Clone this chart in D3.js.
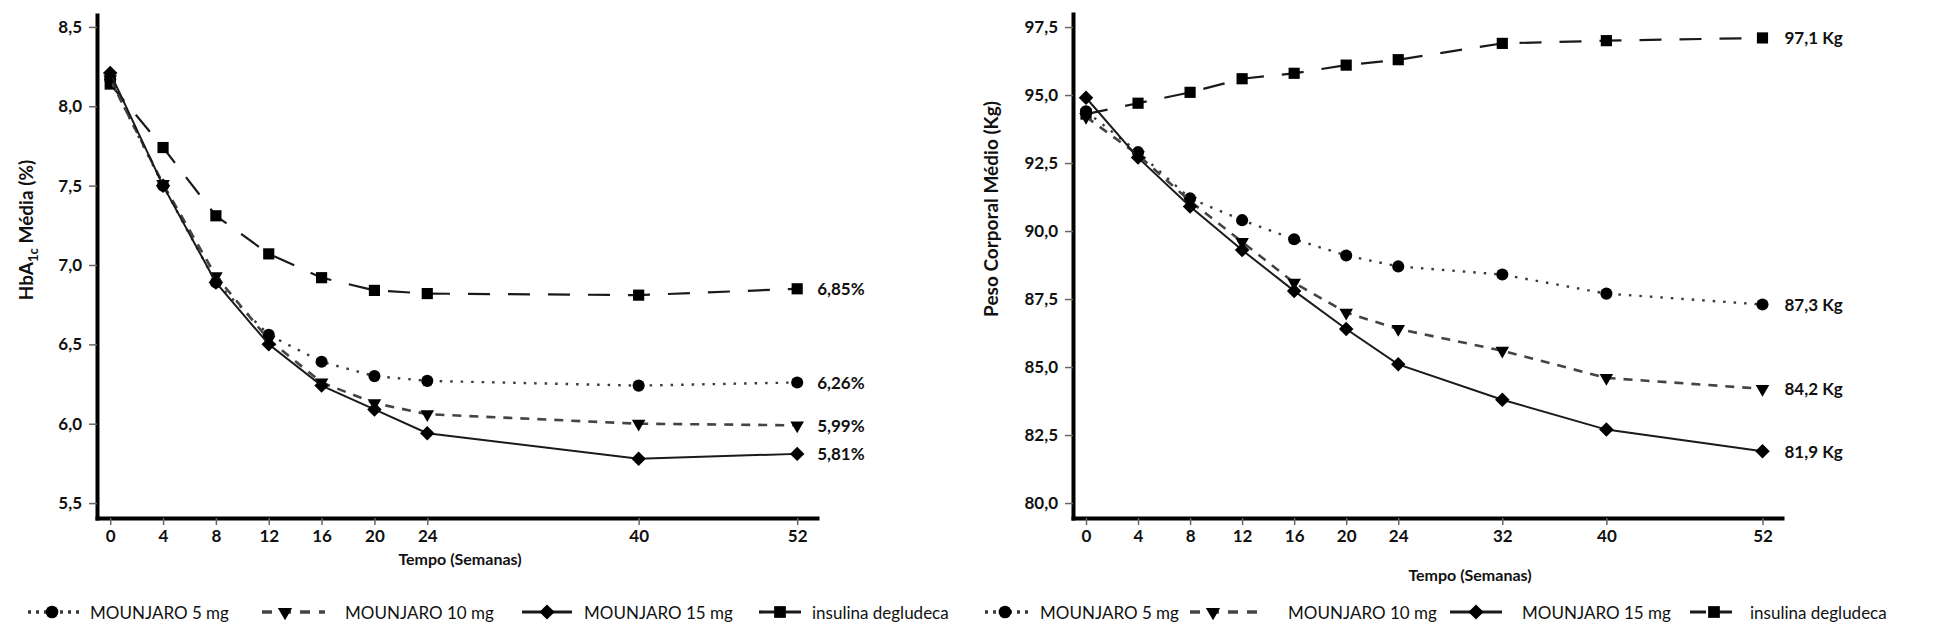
<!DOCTYPE html>
<html>
<head>
<meta charset="utf-8">
<script src="https://cdn.jsdelivr.net/npm/d3@7/dist/d3.min.js"></script>
<style>
  body { margin: 0; background: #fff; }
  svg { display: block; font-family: Lato, "Open Sans", sans-serif; }
</style>
</head>
<body>
<div id="chart"></div>
<script>
// séries (mesma ordem nos dois painéis)
const seriesNames = ["MOUNJARO 5 mg", "MOUNJARO 10 mg", "MOUNJARO 15 mg", "insulina degludeca"];

// painel esquerdo: HbA1c
const weeksA1c = [0, 4, 8, 12, 16, 20, 24, 40, 52];
const a1c5mg = [8.17, 7.50, 6.89, 6.56, 6.39, 6.30, 6.27, 6.24, 6.26];
const a1c10mg = [8.17, 7.51, 6.93, 6.53, 6.26, 6.13, 6.06, 6.00, 5.99];
const a1c15mg = [8.21, 7.50, 6.89, 6.50, 6.24, 6.09, 5.94, 5.78, 5.81];
const a1cDeg = [8.14, 7.74, 7.31, 7.07, 6.92, 6.84, 6.82, 6.81, 6.85];
const a1cTicks = [5.5, 6.0, 6.5, 7.0, 7.5, 8.0, 8.5];
const a1cEndLabels = ["6,26%", "5,99%", "5,81%", "6,85%"];

// painel direito: peso corporal
const weeksWeight = [0, 4, 8, 12, 16, 20, 24, 32, 40, 52];
const weight5mg = [94.4, 92.9, 91.2, 90.4, 89.7, 89.1, 88.7, 88.4, 87.7, 87.3];
const weight10mg = [94.2, 92.8, 91.1, 89.6, 88.1, 87.0, 86.4, 85.6, 84.6, 84.2];
const weight15mg = [94.9, 92.7, 90.9, 89.3, 87.8, 86.4, 85.1, 83.8, 82.7, 81.9];
const weightDeg = [94.3, 94.7, 95.1, 95.6, 95.8, 96.1, 96.3, 96.9, 97.0, 97.1];
const weightTicks = [80.0, 82.5, 85.0, 87.5, 90.0, 92.5, 95.0, 97.5];
const weightEndLabels = ["87,3 Kg", "84,2 Kg", "81,9 Kg", "97,1 Kg"];

const ptBR = d3.formatLocale({ decimal: ",", thousands: ".", grouping: [3], currency: ["R$", ""] });
const fmt1 = ptBR.format(".1f");

// estilo de cada série: traço e marcador
const styles = [
  { stroke: "#3a3a3a", width: 2.4, dash: "2.5,8", symbol: d3.symbolCircle, size: 115, rotate: 0, legendDash: "3,5" },
  { stroke: "#444", width: 2.6, dash: "9,8", symbol: d3.symbolTriangle, size: 80, rotate: 180, legendDash: "10,9" },
  { stroke: "#1a1a1a", width: 2, dash: null, symbol: d3.symbolSquare, size: 105, rotate: 45, legendDash: null },
  { stroke: "#1a1a1a", width: 2.2, dash: "22,18", symbol: d3.symbolSquare, size: 125, rotate: 0, legendDash: "16,10" }
];

const svg = d3.select("#chart").append("svg")
  .attr("width", 1950)
  .attr("height", 643);

function drawPanel(cfg) {
  const x = d3.scaleLinear().domain([-1, 53.5]).range(cfg.xRange);
  const y = d3.scaleLinear().domain(cfg.yDomain).range([518, cfg.yTop]);
  const g = svg.append("g");

  // eixo y
  const yAxis = g.append("g")
    .attr("transform", `translate(${cfg.xRange[0]},0)`)
    .call(d3.axisLeft(y).tickValues(cfg.yTicks).tickFormat(fmt1).tickSize(8).tickSizeOuter(0).tickPadding(7));
  // eixo x
  const xAxis = g.append("g")
    .attr("transform", "translate(0,518)")
    .call(d3.axisBottom(x).tickValues(cfg.weeks).tickFormat(d3.format("d")).tickSize(7).tickSizeOuter(0).tickPadding(5));

  [yAxis, xAxis].forEach(ax => {
    ax.select(".domain").attr("stroke", "#000").attr("stroke-width", 4).attr("stroke-linecap", "square");
    ax.selectAll(".tick line").attr("stroke", "#666").attr("stroke-width", 1.5);
    ax.selectAll(".tick text")
      .attr("fill", "#111")
      .style("font-size", "17px")
      .style("font-weight", "700")
      .style("font-family", "Lato, sans-serif");
  });

  // títulos dos eixos
  const yTitle = g.append("text")
    .attr("transform", `translate(${cfg.yTitleX},${cfg.yTitleY}) rotate(-90)`)
    .attr("text-anchor", "middle")
    .attr("dominant-baseline", "central")
    .attr("fill", "#111")
    .style("font-size", "19px")
    .style("font-weight", "700");
  cfg.yTitle(yTitle);

  g.append("text")
    .attr("x", cfg.xTitleX)
    .attr("y", cfg.xTitleY)
    .attr("text-anchor", "middle")
    .attr("dominant-baseline", "central")
    .attr("fill", "#111")
    .style("font-size", "16px")
    .style("font-weight", "700")
    .text("Tempo (Semanas)");

  const line = d3.line().x(d => x(d.w)).y(d => y(d.v));

  // desenha a série de insulina primeiro, depois as de MOUNJARO
  [3, 0, 1, 2].forEach(i => {
    const st = styles[i];
    const pts = cfg.weeks.map((w, k) => ({ w, v: cfg.series[i][k] }));
    g.append("path")
      .datum(pts)
      .attr("fill", "none")
      .attr("stroke", st.stroke)
      .attr("stroke-width", st.width)
      .attr("stroke-dasharray", st.dash)
      .attr("d", line);

    g.selectAll(null)
      .data(pts)
      .join("path")
      .attr("d", d3.symbol().type(st.symbol).size(st.size))
      .attr("transform", d => `translate(${x(d.w)},${y(d.v)}) rotate(${st.rotate})`)
      .attr("fill", "#000");

    const last = pts[pts.length - 1];
    g.append("text")
      .attr("x", x(last.w) + cfg.labelGap)
      .attr("y", y(last.v))
      .attr("dominant-baseline", "central")
      .attr("fill", "#111")
      .style("font-size", "17px")
      .style("font-weight", "700")
      .text(cfg.endLabels[i]);
  });

  // legenda
  cfg.legend.forEach((it, i) => {
    const st = styles[i];
    const lg = svg.append("g");
    lg.append("line")
      .attr("x1", it.from).attr("x2", it.to)
      .attr("y1", 612).attr("y2", 612)
      .attr("stroke", st.stroke)
      .attr("stroke-width", st.width + 1)
      .attr("stroke-dasharray", st.legendDash);
    lg.append("path")
      .attr("d", d3.symbol().type(st.symbol).size(st.size * 1.1))
      .attr("transform", `translate(${it.mark},612) rotate(${st.rotate})`)
      .attr("fill", "#000");
    lg.append("text")
      .attr("x", it.text)
      .attr("y", 612)
      .attr("dominant-baseline", "central")
      .attr("fill", "#111")
      .style("font-size", "17px")
      .style("font-family", "Lato, sans-serif")
      .text(seriesNames[i]);
  });
}

drawPanel({
  xRange: [97, 817],
  yDomain: [5.406, 8.575],
  yTop: 15,
  yTicks: a1cTicks,
  weeks: weeksA1c,
  series: [a1c5mg, a1c10mg, a1c15mg, a1cDeg],
  endLabels: a1cEndLabels,
  labelGap: 20,
  yTitleX: 25,
  yTitleY: 230,
  yTitle: t => {
    t.append("tspan").text("HbA");
    t.append("tspan").attr("baseline-shift", "sub").style("font-size", "13px").text("1c");
    t.append("tspan").text(" Média (%)");
  },
  xTitleX: 460,
  xTitleY: 558,
  legend: [
    { from: 28, to: 84, mark: 52, text: 90 },
    { from: 262, to: 325, mark: 285, text: 345 },
    { from: 522, to: 572, mark: 547, text: 584 },
    { from: 759, to: 806, mark: 780, text: 812 }
  ]
});

drawPanel({
  xRange: [1073, 1782],
  yDomain: [79.45, 97.98],
  yTop: 14,
  yTicks: weightTicks,
  weeks: weeksWeight,
  series: [weight5mg, weight10mg, weight15mg, weightDeg],
  endLabels: weightEndLabels,
  labelGap: 22,
  yTitleX: 990,
  yTitleY: 209,
  yTitle: t => t.text("Peso Corporal Médio (Kg)"),
  xTitleX: 1470,
  xTitleY: 574,
  legend: [
    { from: 985, to: 1030, mark: 1005, text: 1040 },
    { from: 1190, to: 1266, mark: 1213, text: 1288 },
    { from: 1450, to: 1502, mark: 1476, text: 1522 },
    { from: 1690, to: 1742, mark: 1714, text: 1750 }
  ]
});
</script>
</body>
</html>
